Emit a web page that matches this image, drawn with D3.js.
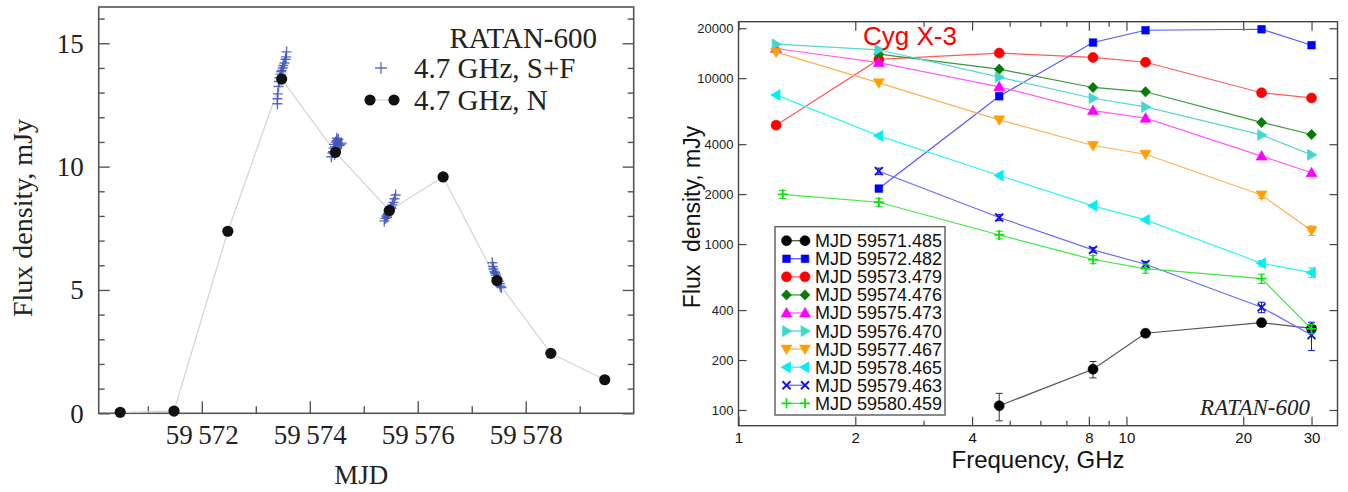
<!DOCTYPE html>
<html><head><meta charset="utf-8">
<script src="https://cdn.jsdelivr.net/npm/d3@7"></script>
<style>
html,body{margin:0;padding:0;background:#fff;}
svg{display:block;}
</style></head>
<body>
<svg id="c" width="1348" height="492"></svg>
<script>
// ---------------- DATA: left panel (4.7 GHz light curve) ----------------
const mjdN  = [59570.488, 59571.485, 59572.482, 59573.479, 59574.476, 59575.473, 59576.470, 59577.467, 59578.465, 59579.463];
const fluxN = [0.04, 0.09, 7.38, 13.55, 10.58, 8.22, 9.58, 5.38, 2.43, 1.36];
const mjdSF  = [59573.40,59573.40,59573.41,59573.42,59573.43,59573.44,59573.46,59573.47,59573.48,59573.50,59573.51,59573.53,59573.55,59573.56,59573.57,
                59574.40,59574.42,59574.43,59574.44,59574.45,59574.46,59574.47,59574.48,59574.50,59574.50,59574.52,59574.53,59574.55,59574.57,59574.59,
                59575.38,59575.40,59575.42,59575.43,59575.44,59575.45,59575.46,59575.48,59575.50,59575.51,59575.53,59575.55,59575.57,59575.59,
                59577.38,59577.39,59577.40,59577.42,59577.43,59577.44,59577.45,59577.46,59577.48,59577.50,59577.52,59577.53,59577.55];
const fluxSF = [12.55,12.75,12.95,13.25,13.45,13.6,13.75,13.85,13.9,14.0,14.1,14.2,14.35,14.45,14.65,
                10.4,10.55,10.6,10.75,10.9,10.5,10.8,11.0,11.05,11.15,10.95,11.1,10.85,10.9,10.95,
                7.8,7.9,8.0,7.95,8.05,8.1,8.2,8.25,8.35,8.3,8.45,8.55,8.7,8.85,
                6.1,5.95,5.85,5.75,5.7,5.65,5.6,5.5,5.45,5.35,5.25,5.15,5.1];
const mjdMajorTicks = [59572, 59574, 59576, 59578];
const mjdMinorTicks = [59571, 59573, 59575, 59577, 59579];
const fluxMajorTicks = [0, 5, 10, 15];
const fluxMinorTicks = [1,2,3,4,6,7,8,9,11,12,13,14,16];

// ---------------- DATA: right panel (spectra) ----------------
const freqGHz  = [1.25, 2.3, 4.7, 8.2, 11.2, 22.3, 30];
const freqLime = [1.3, 2.3, 4.7, 8.2, 11.2, 22.3, 30];
const epochLabels = ["MJD 59571.485","MJD 59572.482","MJD 59573.479","MJD 59574.476","MJD 59575.473",
                     "MJD 59576.470","MJD 59577.467","MJD 59578.465","MJD 59579.463","MJD 59580.459"];
const s59571 = [null, null, 106, 176, 290, 336, 310];
const s59572 = [null, 2160, 7780, 16400, 19450, 19720, 15800];
const s59573 = [5210, 12970, 14170, 13340, 12480, 8170, 7600];
const s59574 = [null, 13960, 11330, 8790, 8280, 5410, 4575];
const s59575 = [15100, 12410, 8870, 6380, 5740, 3390, 2690];
const s59576 = [16030, 14830, 10140, 7570, 6710, 4550, 3450];
const s59577 = [14350, 9370, 5610, 3930, 3480, 1977, 1206];
const s59578 = [7930, 4490, 2590, 1700, 1400, 766, 673];
const s59579 = [null, 2750, 1446, 923, 756, 416, 283];
const s59580 = [1995, 1787, 1135, 807, 712, 619, 308];
const err59571 = [null, null, 20, 20, 14, 14, 12];
const err59577 = [null, null, null, null, null, 90, 80];
const err59578 = [null, null, null, null, null, 30, 45];
const err59579 = [null, 120, 60, 30, 30, 30, 55];
const err59580 = [110, 100, 60, 45, 45, 40, 20];
const freqMajorTicks = [1, 2, 4, 8, 10, 20, 30];
const freqMinorTicks = [3, 5, 6, 7, 9];
const specFluxTicks = [100, 200, 400, 1000, 2000, 4000, 10000, 20000];

const svg = d3.select("#c");

// =============== LEFT PANEL ===============
const L = {x0: 98.7, x1: 633.7, y0: 7, y1: 413.3};
const xL = d3.scaleLinear().domain([59570.09, 59580.0]).range([L.x0, L.x1]);
const yL = d3.scaleLinear().domain([0, 16.47]).range([L.y1, L.y0]);
const serif = "'Liberation Serif','Times New Roman',serif";
const gL = svg.append("g");
const axisCol = "#555";

function styleAxis(g){ g.select(".domain").remove(); g.selectAll(".tick line").attr("stroke", axisCol).attr("stroke-width",1.4); }

gL.append("g").attr("transform",`translate(0,${L.y1})`)
  .call(d3.axisBottom(xL).tickValues(mjdMinorTicks).tickSizeInner(-7).tickSizeOuter(0).tickFormat(""))
  .call(styleAxis);
const bx = gL.append("g").attr("transform",`translate(0,${L.y1})`)
  .call(d3.axisBottom(xL).tickValues(mjdMajorTicks).tickSizeInner(-12).tickSizeOuter(0)
        .tickFormat(d => { const s = String(d); return s.slice(0,2)+"\u2009"+s.slice(2); }))
  .call(styleAxis);
bx.selectAll("text").attr("y", 30.5).attr("dy", null).attr("font-family", serif).attr("font-size", 27).attr("fill","#222");

gL.append("g").attr("transform",`translate(${L.x0},0)`)
  .call(d3.axisLeft(yL).tickValues(fluxMinorTicks).tickSizeInner(-6).tickSizeOuter(0).tickFormat(""))
  .call(styleAxis);
const ly = gL.append("g").attr("transform",`translate(${L.x0},0)`)
  .call(d3.axisLeft(yL).tickValues(fluxMajorTicks).tickSizeInner(-11).tickSizeOuter(0).tickPadding(15))
  .call(styleAxis);
ly.selectAll("text").attr("font-family", serif).attr("font-size", 27).attr("fill","#222").attr("dy","0.33em");
gL.append("g").attr("transform",`translate(${L.x1},0)`)
  .call(d3.axisRight(yL).tickValues(fluxMinorTicks).tickSizeInner(-6).tickSizeOuter(0).tickFormat(""))
  .call(styleAxis);
gL.append("g").attr("transform",`translate(${L.x1},0)`)
  .call(d3.axisRight(yL).tickValues(fluxMajorTicks).tickSizeInner(-11).tickSizeOuter(0).tickFormat(""))
  .call(styleAxis);

gL.append("rect").attr("x",L.x0).attr("y",L.y0).attr("width",L.x1-L.x0).attr("height",L.y1-L.y0)
  .attr("fill","none").attr("stroke",axisCol).attr("stroke-width",1.6);

gL.append("path").datum(mjdN.map((m,i)=>[m,fluxN[i]]))
  .attr("d", d3.line().x(d=>xL(d[0])).y(d=>yL(d[1])))
  .attr("fill","none").attr("stroke","#d6d6d6").attr("stroke-width",1.3);

const crossCol = "#4153b8";
gL.append("g").selectAll("path").data(mjdSF.map((m,i)=>[m,fluxSF[i]])).join("path")
  .attr("d", d => { const x=xL(d[0]), y=yL(d[1]); return `M${x-5},${y}H${x+5}M${x},${y-5.5}V${y+5.5}`; })
  .attr("stroke", crossCol).attr("stroke-width",1.4).attr("stroke-opacity",0.85).attr("fill","none");

gL.append("g").selectAll("circle").data(mjdN.map((m,i)=>[m,fluxN[i]])).join("circle")
  .attr("cx", d=>xL(d[0])).attr("cy", d=>yL(d[1])).attr("r",5.6).attr("fill","#111");

gL.append("text").attr("x",597).attr("y",48).attr("text-anchor","end")
  .attr("font-family",serif).attr("font-size",29).attr("fill","#222").text("RATAN-600");
gL.append("path").attr("d","M375,68H387M381,62V74").attr("stroke",crossCol).attr("stroke-width",1.3).attr("stroke-opacity",0.85);
gL.append("text").attr("x",414).attr("y",78).attr("font-family",serif).attr("font-size",29).attr("fill","#222").text("4.7 GHz, S+F");
gL.append("line").attr("x1",370).attr("x2",394).attr("y1",100).attr("y2",100).attr("stroke","#d6d6d6").attr("stroke-width",1.3);
gL.append("circle").attr("cx",370).attr("cy",100).attr("r",5.6).attr("fill","#111");
gL.append("circle").attr("cx",394).attr("cy",100).attr("r",5.6).attr("fill","#111");
gL.append("text").attr("x",414).attr("y",110).attr("font-family",serif).attr("font-size",29).attr("fill","#222").text("4.7 GHz, N");

gL.append("text").attr("x",(L.x0+L.x1)/2 - 5).attr("y",484).attr("text-anchor","middle")
  .attr("font-family",serif).attr("font-size",27).attr("fill","#222").text("MJD");
gL.append("text").attr("transform","translate(32,218) rotate(-90)").attr("text-anchor","middle")
  .attr("font-family",serif).attr("font-size",28).attr("fill","#222").text("Flux density, mJy");

// =============== RIGHT PANEL ===============
const R = {x0: 738.5, x1: 1337.5, y0: 21.7, y1: 425.7};
const xR = d3.scaleLog().domain([1, 35]).range([R.x0, R.x1]);
const yR = d3.scaleLog().domain([80.4, 21900]).range([R.y1, R.y0]);
const sans = "'Liberation Sans',Arial,Helvetica,sans-serif";
const gR = svg.append("g");
const axisColR = "#444";
function styleAxisR(g){ g.select(".domain").remove(); g.selectAll(".tick line").attr("stroke", axisColR).attr("stroke-width",1.2); }

gR.append("g").attr("transform",`translate(0,${R.y1})`)
  .call(d3.axisBottom(xR).tickValues(freqMinorTicks).tickSizeInner(-5).tickSizeOuter(0).tickFormat("")).call(styleAxisR);
const bxR = gR.append("g").attr("transform",`translate(0,${R.y1})`)
  .call(d3.axisBottom(xR).tickValues(freqMajorTicks).tickSizeInner(-9).tickSizeOuter(0).tickFormat(d3.format("d"))).call(styleAxisR);
bxR.selectAll("text").attr("y", 17).attr("dy", null).attr("font-family",sans).attr("font-size",15).attr("fill","#111");
gR.append("g").attr("transform",`translate(0,${R.y0})`)
  .call(d3.axisTop(xR).tickValues(freqMinorTicks).tickSizeInner(-5).tickSizeOuter(0).tickFormat("")).call(styleAxisR);
gR.append("g").attr("transform",`translate(0,${R.y0})`)
  .call(d3.axisTop(xR).tickValues(freqMajorTicks).tickSizeInner(-9).tickSizeOuter(0).tickFormat("")).call(styleAxisR);

const lyR = gR.append("g").attr("transform",`translate(${R.x0},0)`)
  .call(d3.axisLeft(yR).tickValues(specFluxTicks).tickSizeInner(-8).tickSizeOuter(0).tickPadding(5).tickFormat(d3.format("d"))).call(styleAxisR);
lyR.selectAll("text").attr("font-family",sans).attr("font-size",13).attr("fill","#222");
gR.append("g").attr("transform",`translate(${R.x1},0)`)
  .call(d3.axisRight(yR).tickValues(specFluxTicks).tickSizeInner(-8).tickSizeOuter(0).tickFormat("")).call(styleAxisR);

gR.append("rect").attr("x",R.x0).attr("y",R.y0).attr("width",R.x1-R.x0).attr("height",R.y1-R.y0)
  .attr("fill","none").attr("stroke",axisColR).attr("stroke-width",1.4);

function markerPath(type, x, y){
  switch(type){
    case "circle": return `M${x+5},${y}A5,5 0 1,1 ${x-5},${y}A5,5 0 1,1 ${x+5},${y}Z`;
    case "square": return `M${x-3.8},${y-3.8}h7.6v7.6h-7.6Z`;
    case "diamond": return `M${x},${y-5.2}L${x+5},${y}L${x},${y+5.2}L${x-5},${y}Z`;
    case "up": return `M${x},${y-5.5}L${x+5.5},${y+4}L${x-5.5},${y+4}Z`;
    case "right": return `M${x+5.5},${y}L${x-4},${y-5.5}L${x-4},${y+5.5}Z`;
    case "down": return `M${x},${y+5.5}L${x+5.5},${y-4}L${x-5.5},${y-4}Z`;
    case "left": return `M${x-5.5},${y}L${x+4},${y-5.5}L${x+4},${y+5.5}Z`;
    case "x": return `M${x-4},${y-4}L${x+4},${y+4}M${x-4},${y+4}L${x+4},${y-4}`;
    case "plus": return `M${x-5},${y}H${x+5}M${x},${y-5}V${y+5}`;
  }
}
const seriesVals = [s59571, s59572, s59573, s59574, s59575, s59576, s59577, s59578, s59579, s59580];
const seriesErr  = [err59571, null, null, null, null, null, err59577, err59578, err59579, err59580];
const seriesFreq = [freqGHz, freqGHz, freqGHz, freqGHz, freqGHz, freqGHz, freqGHz, freqGHz, freqGHz, freqLime];
const seriesColor = ["#000000","#0000ff","#ff0000","#067a06","#ff00ff","#40d8cc","#ffa000","#00f0f0","#1010ee","#10e010"];
const lineColor   = ["#555555","#5555ff","#ff5a5a","#3a9a3a","#ff5cff","#55d8d0","#ffb050","#30f4f4","#6a6aff","#40e840"];
const seriesMarker = ["circle","square","circle","diamond","up","right","down","left","x","plus"];

const lineGen = d3.line().x(d=>xR(d[0])).y(d=>yR(d[1]));
seriesVals.forEach((vals, si) => {
  const pts = vals.map((v,i)=>[seriesFreq[si][i], v, seriesErr[si] ? seriesErr[si][i] : null]).filter(d=>d[1]!=null);
  const g = gR.append("g");
  g.append("path").datum(pts).attr("d", lineGen).attr("fill","none")
    .attr("stroke", lineColor[si]).attr("stroke-width",1.2);
  g.selectAll("path.err").data(pts.filter(d=>d[2])).join("path").attr("class","err")
    .attr("d", d => { const x=xR(d[0]), y1=yR(d[1]+d[2]), y2=yR(Math.max(d[1]-d[2],1));
      return `M${x},${y1}V${y2}M${x-3.5},${y1}H${x+3.5}M${x-3.5},${y2}H${x+3.5}`; })
    .attr("stroke", si===0 ? "#333" : seriesColor[si]).attr("stroke-width",1).attr("fill","none");
  const isLine = seriesMarker[si]==="x" || seriesMarker[si]==="plus";
  g.selectAll("path.mk").data(pts).join("path").attr("class","mk")
    .attr("d", d => markerPath(seriesMarker[si], xR(d[0]), yR(d[1])))
    .attr("fill", isLine ? "none" : seriesColor[si])
    .attr("stroke", seriesColor[si]).attr("stroke-width", isLine ? 1.8 : 0.6);
});

const lg = gR.append("g");
lg.append("rect").attr("x",775).attr("y",226.7).attr("width",170).attr("height",188.3)
  .attr("fill","#fff").attr("stroke","#666").attr("stroke-width",1.5);
epochLabels.forEach((lab, i) => {
  const y = 240.7 + i*18.07;
  const isLine = seriesMarker[i]==="x" || seriesMarker[i]==="plus";
  lg.append("line").attr("x1",786.5).attr("x2",805).attr("y1",y).attr("y2",y).attr("stroke",lineColor[i]).attr("stroke-width",1.3);
  [786.5, 805].forEach(x => lg.append("path").attr("d", markerPath(seriesMarker[i], x, y))
     .attr("fill", isLine ? "none" : seriesColor[i]).attr("stroke", seriesColor[i]).attr("stroke-width", isLine?1.8:0.6));
  lg.append("text").attr("x",815).attr("y",y+6.5).attr("font-family",sans).attr("font-size",18).attr("fill","#111").text(lab);
});

gR.append("text").attr("x",863).attr("y",45).attr("font-family",sans).attr("font-size",26).attr("fill","#ff0000").text("Cyg X-3");
gR.append("text").attr("x",1310).attr("y",415).attr("text-anchor","end").attr("font-family",serif).attr("font-style","italic")
  .attr("font-size",23).attr("fill","#222").text("RATAN-600");
gR.append("text").attr("x",1038).attr("y",468).attr("text-anchor","middle").attr("font-family",sans).attr("font-size",24).attr("fill","#111").text("Frequency, GHz");
gR.append("text").attr("transform","translate(700,217) rotate(-90)").attr("text-anchor","middle")
  .attr("font-family",sans).attr("font-size",23).attr("fill","#111").text("Flux\u00a0 density, mJy");
</script>
</body></html>
